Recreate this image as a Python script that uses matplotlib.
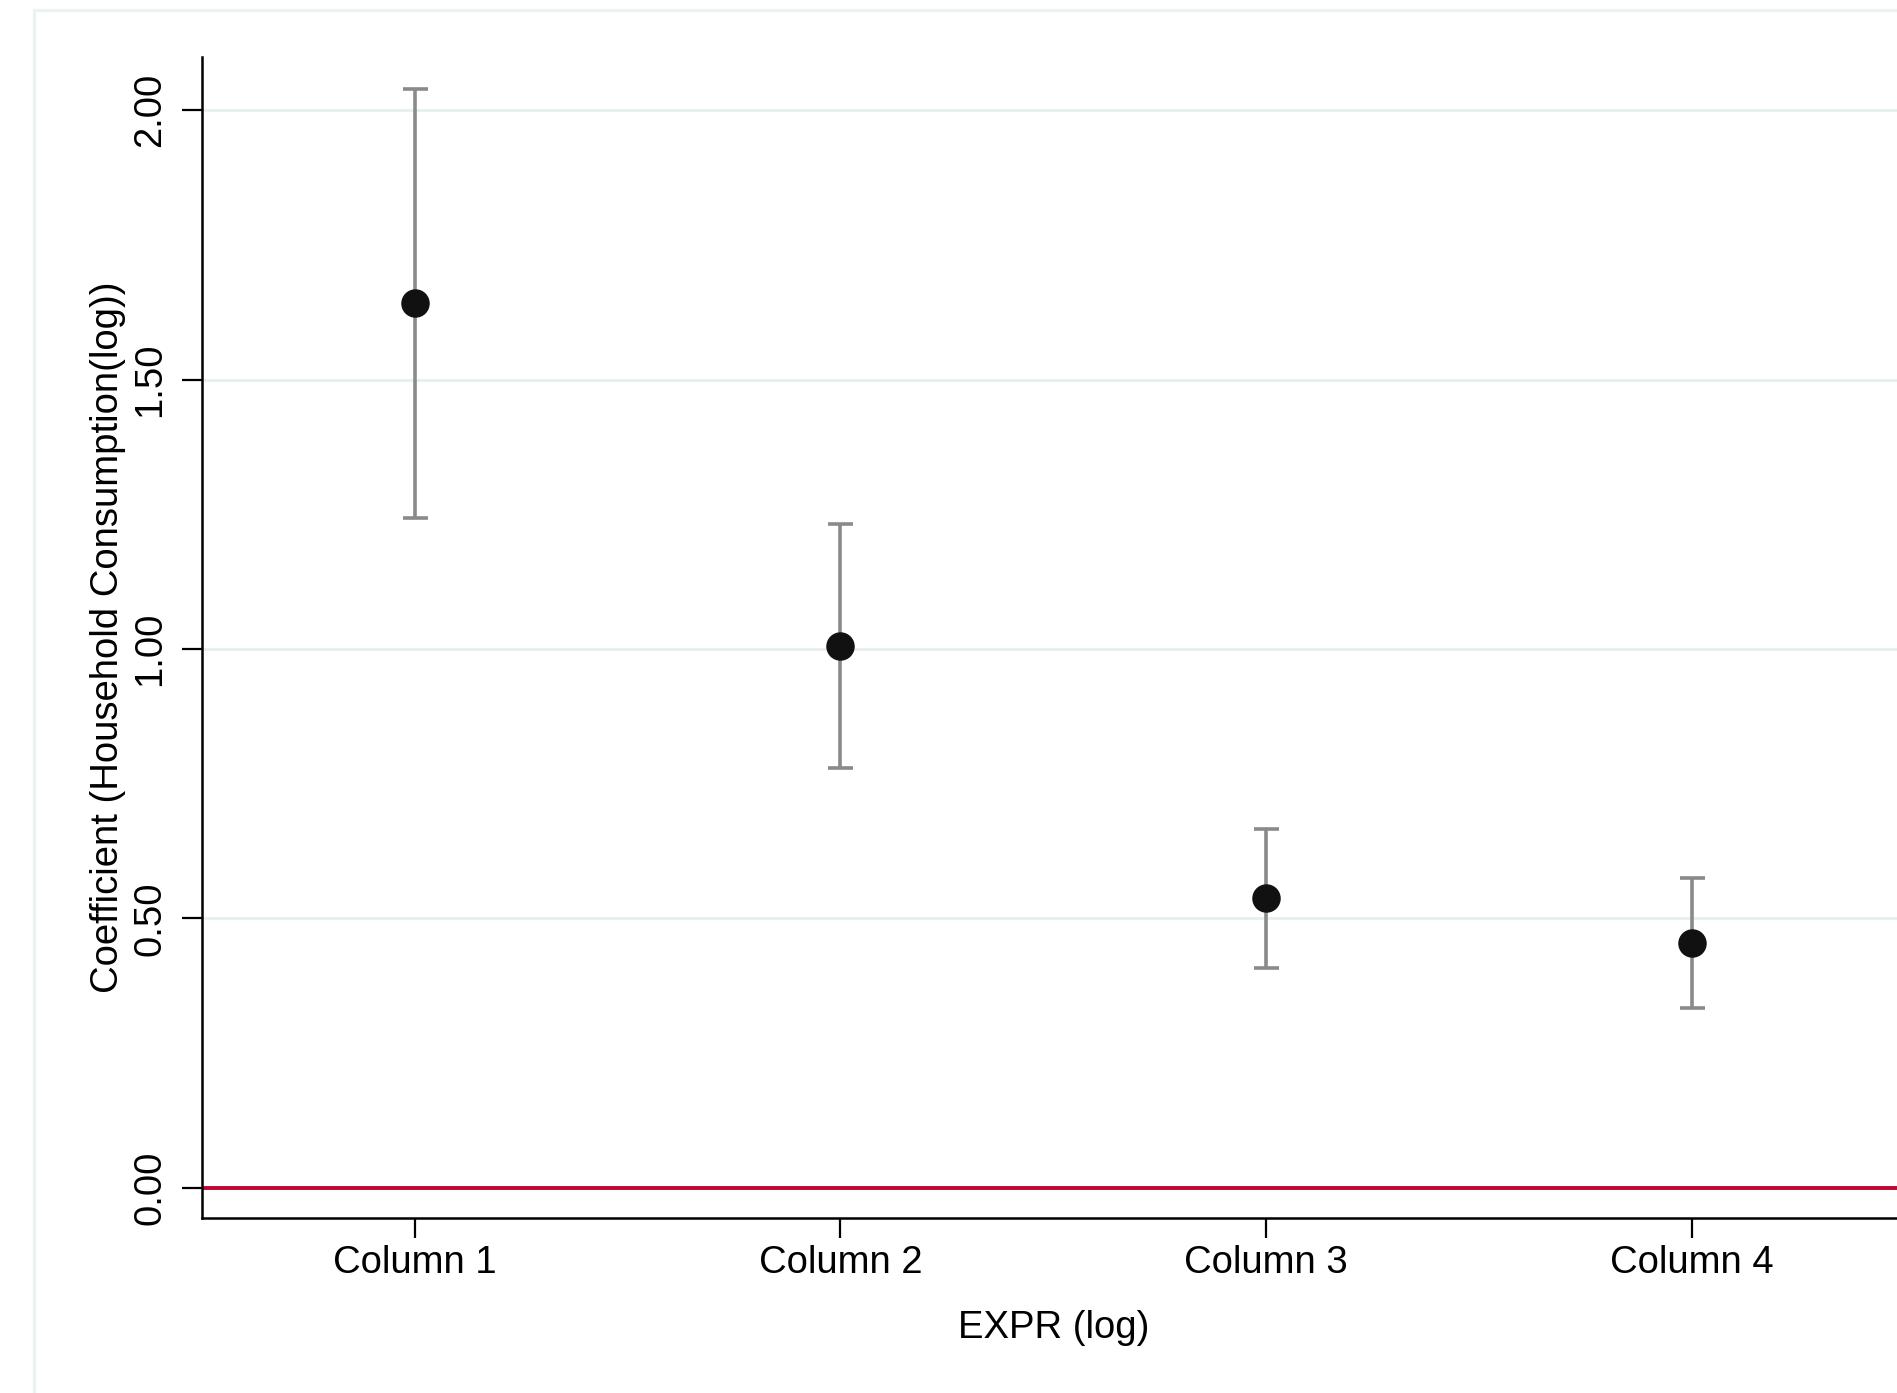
import matplotlib
matplotlib.use("Agg")
import matplotlib.pyplot as plt
from matplotlib.patches import Rectangle

# ---------- Data ----------
columns = ["Column 1", "Column 2", "Column 3", "Column 4"]
coef = [1.642, 1.005, 0.538, 0.455]
ci_low = [1.243, 0.779, 0.408, 0.334]
ci_high = [2.040, 1.232, 0.666, 0.575]
y_ticks = [0.0, 0.5, 1.0, 1.5, 2.0]
y_tick_labels = ["0.00", "0.50", "1.00", "1.50", "2.00"]

plt.rcParams["font.family"] = ["Liberation Sans", "DejaVu Sans"]
FS = 27.5

fig = plt.figure(figsize=(18.97, 13.93), dpi=100)

# outer graph-region frame (cropped on right and bottom)
fig.patches.append(Rectangle((0.0179, -0.1), 1.2, 0.1 + 0.9928, transform=fig.transFigure,
                             fill=False, edgecolor="#eaf2f3", linewidth=2.2))

ax = fig.add_axes([0.1065, 0.1256, 0.8974, 0.8335])

x = list(range(1, len(columns) + 1))
lower = [c - l for c, l in zip(coef, ci_low)]
upper = [h - c for c, h in zip(coef, ci_high)]

ax.axhline(0, color="#c10534", linewidth=2.8, zorder=2)
ax.errorbar(x, coef, yerr=[lower, upper], fmt="none", ecolor="#8a8a8a",
            elinewidth=2.6, capsize=9, capthick=2.6, zorder=3)
ax.plot(x, coef, "o", color="#111111", markersize=19.5, zorder=4)

ax.set_xlim(0.5, 4.5)
ax.set_ylim(-0.056, 2.099)
ax.set_xticks(x)
ax.set_xticklabels(columns, fontsize=FS)
ax.set_yticks(y_ticks)
ax.set_yticklabels(y_tick_labels, fontsize=FS, rotation=90, va="center")

ax.yaxis.grid(True, color="#e6eff0", linewidth=2.0, zorder=0)
ax.set_axisbelow(True)

for s in ["top", "right"]:
    ax.spines[s].set_visible(False)
for s in ["left", "bottom"]:
    ax.spines[s].set_linewidth(1.8)
    ax.spines[s].set_color("black")

ax.tick_params(axis="both", length=14.4, width=1.6, color="black")
ax.tick_params(axis="x", pad=5)
ax.tick_params(axis="y", pad=10)

ax.set_xlabel("EXPR (log)", fontsize=FS, labelpad=21)
ax.set_ylabel("Coefficient (Household Consumption(log))", fontsize=FS, labelpad=4.5)

fig.savefig("out.png", dpi=100)
